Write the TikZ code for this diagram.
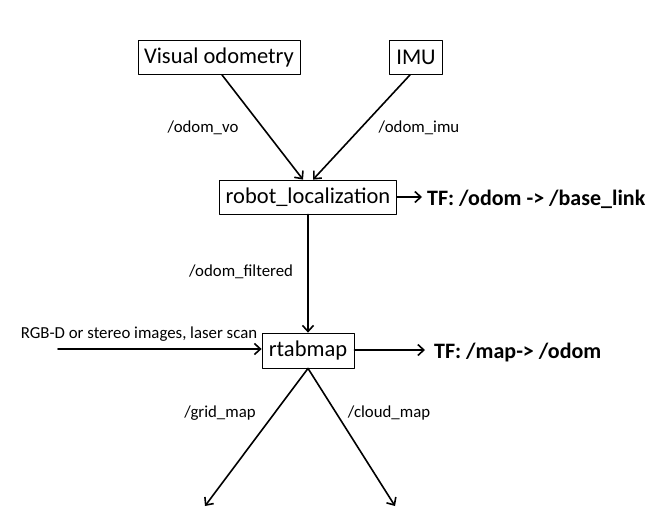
\documentclass[tikz,border=0pt]{standalone}
\usepackage{fontspec}
\setmainfont{Carlito}
\usetikzlibrary{arrows.meta}
\begin{document}
\begin{tikzpicture}[x=1pt,y=-1pt,>={Straight Barb[length=6pt,width=11pt]}, line join=round, line cap=round]
	\tikzset{box/.style={draw, line width=0.8pt, inner sep=0pt, minimum height=34pt, font=\fontsize{22.5}{26}\selectfont},
		flow/.style={->, line width=1.6pt},
		topic/.style={font=\fontsize{16.8}{20}\selectfont},
		tf/.style={font=\bfseries\fontsize{22}{26}\selectfont, anchor=west, inner sep=2pt}}
	\useasboundingbox (0,0) rectangle (671,528);
	% nodes
	\node[box, minimum width=162pt] (vo) at (219,57.5) {Visual odometry};
	\node[box, minimum width=53pt] (imu) at (416,57.5) {IMU};
	\node[box, minimum width=177pt] (rl) at (308,197) {robot\_localization};
	\node[box, minimum width=92pt, minimum height=35pt] (rtab) at (308,350.5) {rtabmap};
	\coordinate (scan) at (58,349);
	\coordinate (grid) at (205,506);
	\coordinate (cloud) at (395,506);
	% outputs
	\node[tf] (tfodom) at (425,199) {TF: /odom -> /base\_link};
	\node[tf] (tfmap) at (432,353) {TF: /map-> /odom};
	% connectors
	\draw[flow] ([xshift=3pt]vo.south) -- ([xshift=-5pt]rl.north);
	\draw[flow] ([xshift=-6pt]imu.south) -- ([xshift=5pt]rl.north);
	\draw[flow] (rl.east) -- ([xshift=-3pt]tfodom.west |- rl.east);
	\draw[flow] (rl.south) -- (rtab.north);
	\draw[flow] (scan) -- (rtab.west |- scan);
	\draw[flow] (rtab.east |- 0,350) -- ([xshift=-7pt]tfmap.west |- 0,350);
	\draw[flow] (rtab.south) -- (grid);
	\draw[flow] (rtab.south) -- (cloud);
	% topic labels
	\node[topic] (lvo) at (203,128) {/odom\_vo};
	\node[topic] (limu) at (419,128) {/odom\_imu};
	\node[topic] (lfilt) at (241,272) {/odom\_filtered};
	\node[topic] (lscan) at (139,334) {RGB-D or stereo images, laser scan};
	\node[topic] (lgrid) at (220,413) {/grid\_map};
	\node[topic] (lcloud) at (389,413) {/cloud\_map};
\end{tikzpicture}
\end{document}
